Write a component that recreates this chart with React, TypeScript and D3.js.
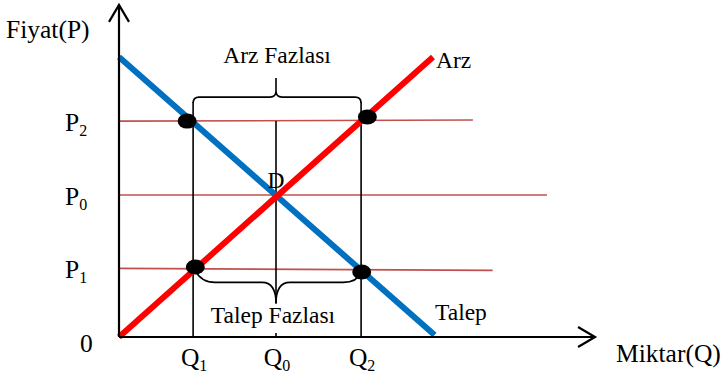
import React from "react";
import * as d3 from "d3";

// Supply (Arz) and demand (Talep) lines: [quantity, price]
const supplyLine: [number, number][] = [[0, 0], [10, 10]];
const demandLine: [number, number][] = [[0, 10], [10.05, 0.07]];

// Price levels (horizontal guides)
const priceLabels = ["P2", "P0", "P1"];
const priceValues = [7.71, 5.07, 2.45];
const priceLineEnds = [11.27, 13.63, 11.9];
const priceLineEndValues = [7.75, 5.07, 2.38];

// Quantity levels (vertical guides)
const quantityLabels = ["Q1", "Q0", "Q2"];
const quantityValues = [2.36, 5.0, 7.71];

// Intersection dots [quantity, price]
const dotPoints: [number, number][] = [[2.17, 7.71], [7.91, 7.86], [2.43, 2.5], [7.73, 2.32]];

const W = 723, H = 377;
const x = d3.scaleLinear().domain([0, 10]).range([119, 433]);
const y = d3.scaleLinear().domain([0, 10]).range([337, 57]);
const FONT = "'Liberation Serif', 'Times New Roman', serif";

export default function App() {
  const line = d3.line<[number, number]>().x(d => x(d[0])).y(d => y(d[1]));
  const x0 = x(0), y0 = y(0);
  const xEnd = x(15.16), yTop = y(11.86);
  const q1 = x(quantityValues[0]), q0 = x(quantityValues[1]), q2 = x(quantityValues[2]);
  const p2 = y(priceValues[0]), p1 = y(priceValues[2]);
  const braceTop = p2 - 24;
  const braceTip = braceTop - 19;
  const lowBrace = p1 + 14;
  const lowTip = lowBrace + 21;

  const topBrace = `M${q1},${braceTop + 6} Q${q1},${braceTop} ${q1 + 6},${braceTop} L${q0 - 6},${braceTop} Q${q0},${braceTop} ${q0},${braceTop - 6} L${q0},${braceTip} L${q0},${braceTop - 6} Q${q0},${braceTop} ${q0 + 6},${braceTop} L${q2 - 6},${braceTop} Q${q2},${braceTop} ${q2},${braceTop + 6}`;
  const botBrace = `M${q1 + 2},${p1 + 2} Q${q1 + 8},${lowBrace} ${q1 + 22},${lowBrace} L${q0 - 14},${lowBrace} Q${q0},${lowBrace} ${q0},${lowTip} Q${q0},${lowBrace} ${q0 + 14},${lowBrace} L${q2 - 18},${lowBrace} Q${q2 - 4},${lowBrace} ${q2},${p1 + 4}`;

  return (
    <svg width={W} height={H} style={{ position: "absolute", left: 0, top: 0, background: "#fff" }} fontFamily={FONT}>
      {/* price guide lines */}
      {priceValues.map((p, i) => (
        <line key={"pl" + i} x1={x0} y1={y(p)} x2={x(priceLineEnds[i])} y2={y(priceLineEndValues[i])}
          stroke="#c0504d" strokeWidth={1.6} />
      ))}
      {/* quantity verticals */}
      <line x1={q1} y1={braceTop + 5} x2={q1} y2={y0} stroke="#000" strokeWidth={1.6} />
      <line x1={q2} y1={braceTop + 5} x2={q2} y2={y0} stroke="#000" strokeWidth={1.6} />
      <line x1={q0} y1={p2} x2={q0} y2={lowTip} stroke="#000" strokeWidth={1.6} />
      <line x1={q0} y1={y0 - 4} x2={q0} y2={y0} stroke="#000" strokeWidth={1.6} />
      {/* braces */}
      <path d={topBrace} fill="none" stroke="#000" strokeWidth={1.6} />
      <path d={botBrace} fill="none" stroke="#000" strokeWidth={1.6} />
      {/* demand and supply */}
      <path d={line(demandLine) || ""} stroke="#0070c0" strokeWidth={6} fill="none" />
      <path d={line(supplyLine) || ""} stroke="#ff0000" strokeWidth={6} fill="none" />
      {/* dots */}
      {dotPoints.map((d, i) => (
        <ellipse key={"d" + i} cx={x(d[0])} cy={y(d[1])} rx={9.5} ry={7.5} fill="#000" />
      ))}
      {/* axes */}
      <line x1={x0} y1={y0} x2={x0} y2={yTop} stroke="#000" strokeWidth={2.2} />
      <line x1={x0} y1={y0} x2={xEnd} y2={y0} stroke="#000" strokeWidth={2.2} />
      <path d={`M${x0 - 10},${yTop + 17} L${x0},${yTop} L${x0 + 10},${yTop + 17}`} fill="none" stroke="#000" strokeWidth={2.2} />
      <path d={`M${xEnd - 17},${y0 - 10} L${xEnd},${y0} L${xEnd - 17},${y0 + 10}`} fill="none" stroke="#000" strokeWidth={2.2} />
      {/* axis titles */}
      <text x={6} y={38} fontSize={25.5}>Fiyat(P)</text>
      <text x={616} y={362} fontSize={25.5}>Miktar(Q)</text>
      <text x={80} y={352} fontSize={25.5}>0</text>
      {/* price labels */}
      {priceValues.map((p, i) => (
        <text key={"pt" + i} x={65} y={y(p) + 10} fontSize={25.5}>
          {priceLabels[i][0]}<tspan fontSize={16} dy={5}>{priceLabels[i].slice(1)}</tspan>
        </text>
      ))}
      {/* quantity labels */}
      {quantityValues.map((q, i) => (
        <text key={"qt" + i} x={x(q) + 1} y={366} fontSize={25.5} textAnchor="middle">
          {quantityLabels[i][0]}<tspan fontSize={16} dy={5}>{quantityLabels[i].slice(1)}</tspan>
        </text>
      ))}
      {/* annotations */}
      <text x={q0 + 1} y={63} fontSize={23.5} textAnchor="middle">Arz Fazlası</text>
      <text x={q0 - 3} y={323} fontSize={23.5} textAnchor="middle">Talep Fazlası</text>
      <text x={436} y={68} fontSize={23.5}>Arz</text>
      <text x={435} y={320} fontSize={23.5}>Talep</text>
      <text x={q0} y={188} fontSize={23.5} textAnchor="middle">D</text>
    </svg>
  );
}
